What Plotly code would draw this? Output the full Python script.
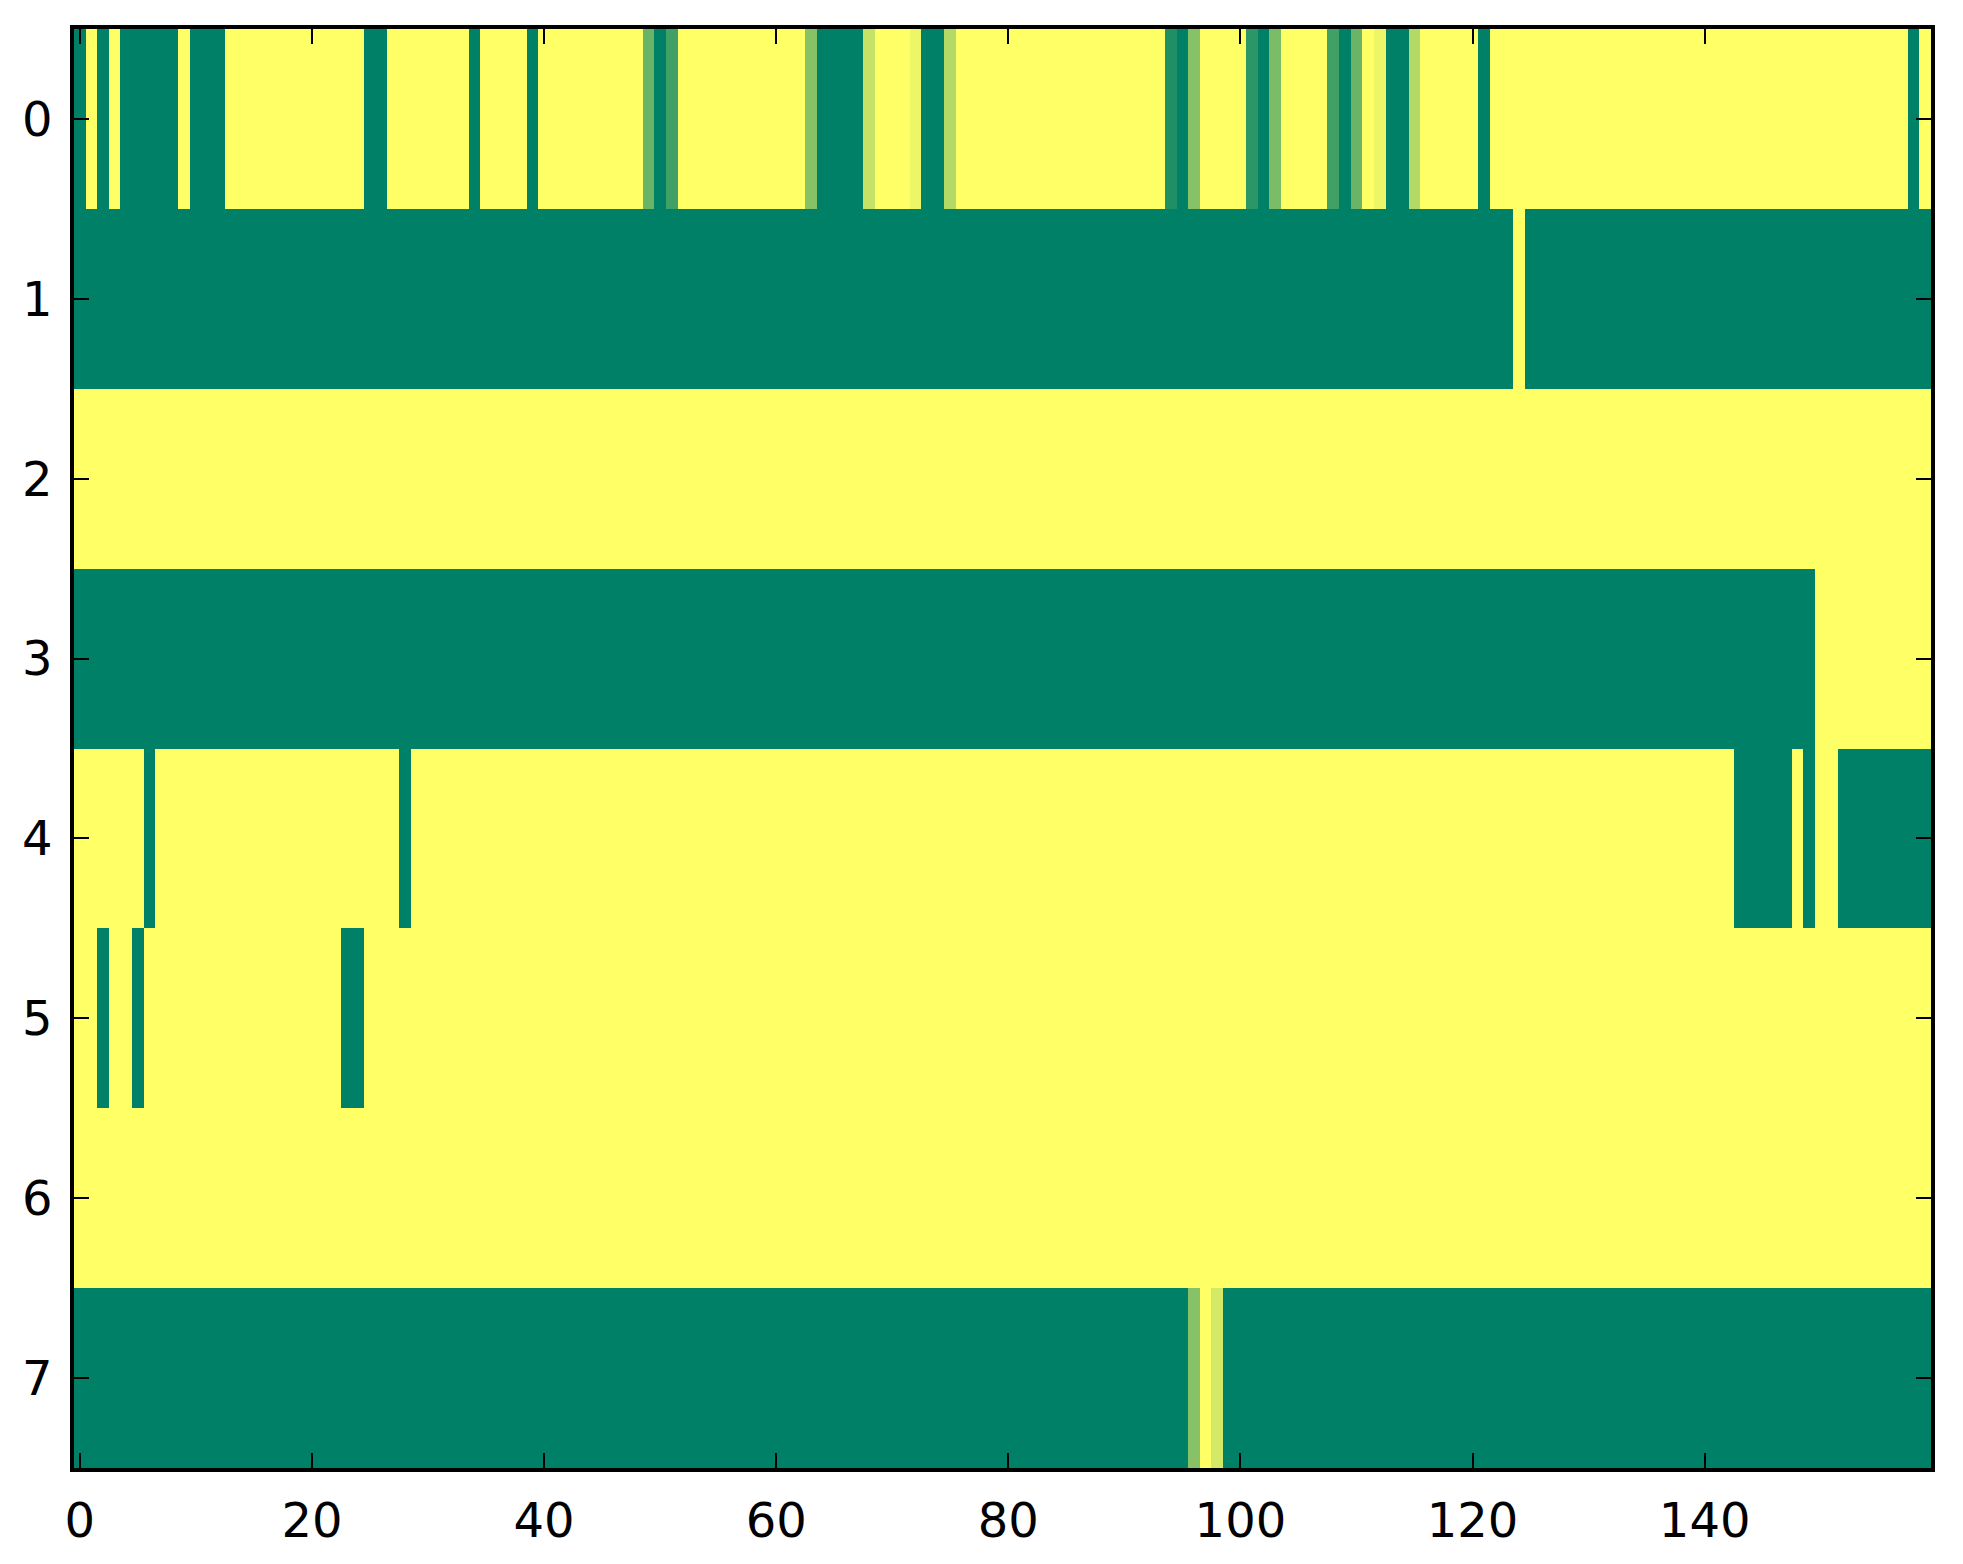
import plotly.graph_objects as go

# 8 rows x 160 columns, values in [0, 1] (run-length written out per row)
row0 = ([0] + [1] + [0] + [1] + [0]*5 + [1] + [0]*3 + [1]*12 + [0]*2 + [1]*7 + [0] + [1]*4 + [0]
        + [1]*9 + [0.41] + [0] + [0.25] + [1]*11 + [0.53] + [0]*4 + [0.77] + [1]*3 + [0.93]
        + [0]*2 + [0.7] + [1]*18 + [0.12] + [0] + [0.53] + [1]*4 + [0.17] + [0] + [0.48]
        + [1]*4 + [0.25] + [0] + [0.41] + [1] + [0.93] + [0]*2 + [0.7] + [1]*5 + [0]
        + [1]*36 + [0] + [1])
row1 = [0]*124 + [1] + [0]*35
row2 = [1]*160
row3 = [0]*150 + [1]*10
row4 = [1]*6 + [0] + [1]*21 + [0] + [1]*114 + [0]*5 + [1] + [0] + [1]*2 + [0]*8
row5 = [1]*2 + [0] + [1]*2 + [0] + [1]*17 + [0]*2 + [1]*135
row6 = [1]*160
row7 = [0]*96 + [0.53] + [1] + [0.83] + [0]*61

rows = [row0, row1, row2, row3, row4, row5, row6, row7]
x_vals = list(range(160))
y_vals = list(range(8))
x_ticks = [0, 20, 40, 60, 80, 100, 120, 140]
y_ticks = [0, 1, 2, 3, 4, 5, 6, 7]

# matplotlib "summer" colormap is linear from (0, .5, .4) to (1, 1, .4)
summer = [[0, "#008066"], [1, "#ffff66"]]

fig = go.Figure(
    go.Heatmap(z=rows, x=x_vals, y=y_vals, colorscale=summer,
               zmin=0, zmax=1, showscale=False, hoverongaps=False)
)

axis_style = dict(
    showline=True, linecolor="black", linewidth=3.5, mirror="ticks",
    ticks="inside", ticklen=15, tickwidth=1.5, tickcolor="black",
    showgrid=False, zeroline=False, ticklabelstandoff=8,
)

fig.update_xaxes(range=[-0.5, 159.5], tickvals=x_ticks, **axis_style)
fig.update_yaxes(range=[7.5, -0.5], tickvals=y_ticks, **axis_style)

# page body adds ~8px offset, so the figure is shrunk by that much
fig.update_layout(
    width=1955, height=1556,
    margin=dict(l=66, r=32, t=21, b=96),
    paper_bgcolor="white", plot_bgcolor="white",
    font=dict(family="DejaVu Sans", size=48, color="black"),
)

fig.write_html("out.html")
